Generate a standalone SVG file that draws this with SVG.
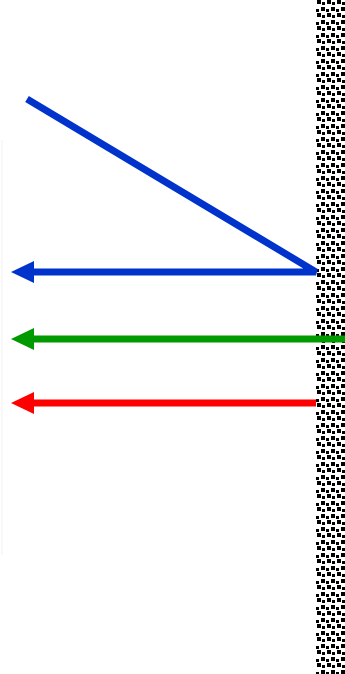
<svg xmlns="http://www.w3.org/2000/svg" width="345" height="674" viewBox="0 0 345 674">
<style>
.ray{fill:none;stroke-width:7;stroke-linecap:butt}
</style>
<defs>
<pattern id="dots" x="316" y="0" width="10" height="13" patternUnits="userSpaceOnUse">
<rect x="1" y="0" width="4" height="4" fill="#000"/>
<rect x="6" y="2" width="3" height="3" fill="#000"/>
<rect x="5" y="7" width="4" height="4" fill="#000"/>
<rect x="0" y="9" width="3" height="3" fill="#000"/>
</pattern>
<marker id="ab" viewBox="0 0 23 22" refX="0" refY="11" markerWidth="23" markerHeight="22" markerUnits="userSpaceOnUse" orient="auto-start-reverse"><path d="M0,0 L23,11 L0,22 Z" fill="#0033cc"/></marker>
<marker id="ag" viewBox="0 0 23 22" refX="0" refY="11" markerWidth="23" markerHeight="22" markerUnits="userSpaceOnUse" orient="auto-start-reverse"><path d="M0,0 L23,11 L0,22 Z" fill="#009900"/></marker>
<marker id="ar" viewBox="0 0 23 22" refX="0" refY="11" markerWidth="23" markerHeight="22" markerUnits="userSpaceOnUse" orient="auto-start-reverse"><path d="M0,0 L23,11 L0,22 Z" fill="#ff0000"/></marker>
</defs>
<line x1="2" y1="140" x2="2" y2="555" stroke="#f2f2f2" stroke-width="1"/>
<g id="wall"><rect x="316" y="0" width="29" height="674" fill="url(#dots)"/></g>
<g id="connectors">
<polyline class="ray" points="27,99 316,272 34,272" stroke="#0033cc" stroke-linejoin="bevel" marker-end="url(#ab)"/>
<line class="ray" x1="345" y1="339" x2="34" y2="339" stroke="#009900" marker-end="url(#ag)"/>
<line class="ray" x1="316" y1="403" x2="34" y2="403" stroke="#ff0000" marker-end="url(#ar)"/>
</g>
</svg>
